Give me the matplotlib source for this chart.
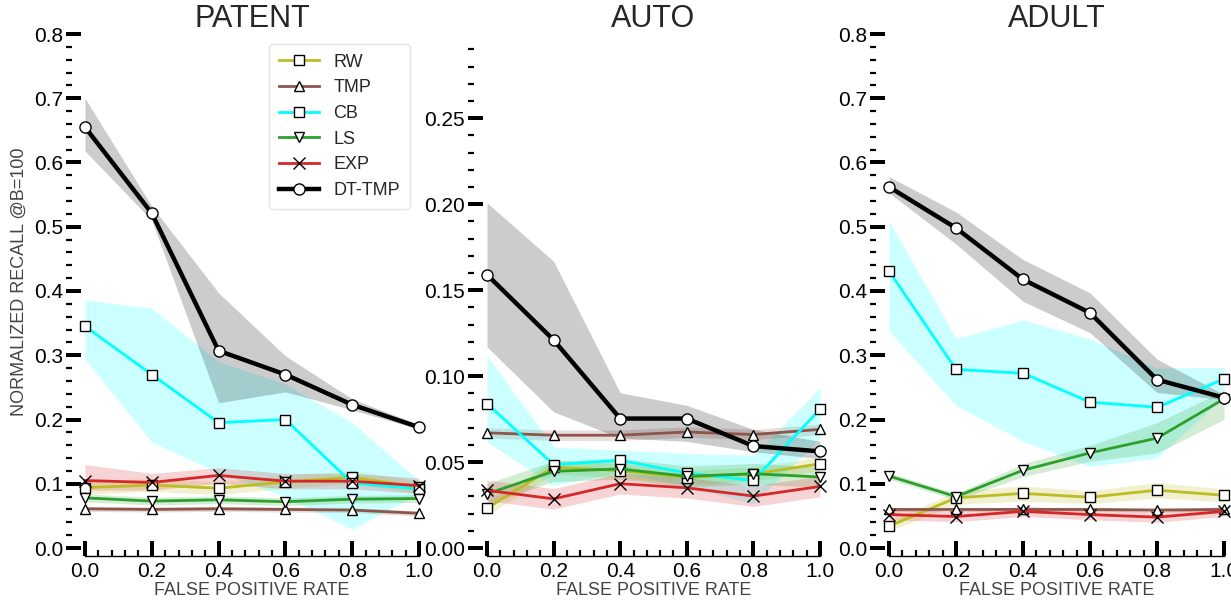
import numpy as np
import matplotlib
matplotlib.use('Agg')
import matplotlib.pyplot as plt
from matplotlib.ticker import MultipleLocator, FormatStrFormatter

plt.rcParams['font.family'] = ['Liberation Sans', 'DejaVu Sans']

fpr = [0.0, 0.2, 0.4, 0.6, 0.8, 1.0]
datasets = ['PATENT', 'AUTO', 'ADULT']
methods = ['RW', 'TMP', 'CB', 'LS', 'EXP', 'DT-TMP']

# PATENT
patent_mean = {
    'RW':     [0.094, 0.098, 0.093, 0.103, 0.110, 0.095],
    'TMP':    [0.061, 0.060, 0.061, 0.060, 0.059, 0.054],
    'CB':     [0.345, 0.270, 0.195, 0.200, 0.101, 0.092],
    'LS':     [0.078, 0.073, 0.075, 0.072, 0.076, 0.077],
    'EXP':    [0.105, 0.102, 0.113, 0.104, 0.104, 0.097],
    'DT-TMP': [0.655, 0.521, 0.307, 0.270, 0.223, 0.188],
}
patent_low = {
    'RW':     [0.084, 0.088, 0.083, 0.093, 0.100, 0.085],
    'TMP':    [0.057, 0.056, 0.057, 0.056, 0.055, 0.050],
    'CB':     [0.294, 0.165, 0.117, 0.080, 0.029, 0.085],
    'LS':     [0.072, 0.067, 0.069, 0.066, 0.070, 0.071],
    'EXP':    [0.090, 0.090, 0.101, 0.092, 0.092, 0.085],
    'DT-TMP': [0.618, 0.510, 0.226, 0.243, 0.215, 0.185],
}
patent_high = {
    'RW':     [0.104, 0.108, 0.103, 0.113, 0.120, 0.105],
    'TMP':    [0.065, 0.064, 0.065, 0.064, 0.063, 0.058],
    'CB':     [0.386, 0.373, 0.290, 0.255, 0.195, 0.105],
    'LS':     [0.084, 0.079, 0.081, 0.078, 0.082, 0.083],
    'EXP':    [0.130, 0.116, 0.125, 0.116, 0.116, 0.109],
    'DT-TMP': [0.700, 0.532, 0.397, 0.299, 0.232, 0.192],
}

# AUTO
auto_mean = {
    'RW':     [0.0232, 0.047, 0.045, 0.041, 0.043, 0.049],
    'TMP':    [0.067, 0.0656, 0.0656, 0.0675, 0.066, 0.069],
    'CB':     [0.084, 0.0485, 0.051, 0.0436, 0.0393, 0.0807],
    'LS':     [0.0315, 0.0446, 0.046, 0.0417, 0.0432, 0.0413],
    'EXP':    [0.0335, 0.0286, 0.0374, 0.035, 0.0302, 0.0358],
    'DT-TMP': [0.159, 0.121, 0.0753, 0.0753, 0.0593, 0.0562],
}
auto_low = {
    'RW':     [0.019, 0.043, 0.041, 0.037, 0.039, 0.045],
    'TMP':    [0.064, 0.0626, 0.0626, 0.0645, 0.063, 0.066],
    'CB':     [0.0617, 0.0364, 0.044, 0.036, 0.0257, 0.0636],
    'LS':     [0.0255, 0.0386, 0.040, 0.0357, 0.0372, 0.0353],
    'EXP':    [0.0275, 0.0226, 0.0314, 0.029, 0.0242, 0.0298],
    'DT-TMP': [0.117, 0.0792, 0.064, 0.062, 0.056, 0.052],
}
auto_high = {
    'RW':     [0.027, 0.051, 0.049, 0.045, 0.047, 0.053],
    'TMP':    [0.070, 0.0686, 0.0686, 0.0705, 0.069, 0.072],
    'CB':     [0.112, 0.0588, 0.057, 0.055, 0.054, 0.093],
    'LS':     [0.0375, 0.0506, 0.052, 0.0477, 0.0492, 0.0473],
    'EXP':    [0.0395, 0.0346, 0.0434, 0.041, 0.0362, 0.0418],
    'DT-TMP': [0.2008, 0.1668, 0.0903, 0.083, 0.069, 0.062],
}

# ADULT
adult_mean = {
    'RW':     [0.034, 0.078, 0.085, 0.079, 0.090, 0.082],
    'TMP':    [0.060, 0.060, 0.060, 0.060, 0.059, 0.060],
    'CB':     [0.431, 0.278, 0.272, 0.227, 0.219, 0.263],
    'LS':     [0.112, 0.080, 0.121, 0.148, 0.171, 0.232],
    'EXP':    [0.052, 0.049, 0.057, 0.052, 0.048, 0.057],
    'DT-TMP': [0.562, 0.498, 0.418, 0.366, 0.262, 0.234],
}
adult_low = {
    'RW':     [0.026, 0.068, 0.073, 0.069, 0.078, 0.072],
    'TMP':    [0.057, 0.057, 0.057, 0.057, 0.056, 0.057],
    'CB':     [0.338, 0.222, 0.166, 0.127, 0.140, 0.236],
    'LS':     [0.107, 0.075, 0.111, 0.135, 0.148, 0.200],
    'EXP':    [0.044, 0.041, 0.049, 0.044, 0.040, 0.049],
    'DT-TMP': [0.553, 0.473, 0.384, 0.335, 0.242, 0.231],
}
adult_high = {
    'RW':     [0.042, 0.088, 0.097, 0.089, 0.102, 0.092],
    'TMP':    [0.063, 0.063, 0.063, 0.063, 0.062, 0.063],
    'CB':     [0.509, 0.326, 0.355, 0.325, 0.280, 0.281],
    'LS':     [0.117, 0.085, 0.131, 0.160, 0.195, 0.245],
    'EXP':    [0.060, 0.057, 0.065, 0.060, 0.056, 0.065],
    'DT-TMP': [0.578, 0.523, 0.449, 0.397, 0.294, 0.239],
}

colors = {'RW': '#bcbd22', 'TMP': '#8c564b', 'CB': '#00ffff',
          'LS': '#2ca02c', 'EXP': '#d62728', 'DT-TMP': 'black'}
markers = {'RW': 's', 'TMP': '^', 'CB': 's', 'LS': 'v', 'EXP': 'x', 'DT-TMP': 'o'}

TEXT = '#262626'
LABEL = '#444444'
PX = 72 / 100.0  # points per pixel at dpi 100


def plot_panel(ax, title, mean, low, high, ymax, major, minor, fmt, legend=False):
    for m in methods:
        dt = m == 'DT-TMP'
        ax.fill_between(fpr, low[m], high[m], color=colors[m], alpha=0.2,
                        linewidth=0, zorder=1 if not dt else 2)
        if markers[m] == 'x':
            ax.plot(fpr, mean[m], color=colors[m], lw=2, marker='x', ms=8,
                    mec='black', mew=1, label=m, zorder=4, clip_on=False)
        else:
            ax.plot(fpr, mean[m], color=colors[m], lw=3.2 if dt else 2,
                    marker=markers[m], ms=8 if dt else 7.5, mfc='white',
                    mec='black', mew=1, label=m, zorder=5 if dt else 4,
                    clip_on=False)

    ax.set_xlim(0, 1)
    ax.set_ylim(0, ymax)
    ax.set_title(title, fontsize=22, color=TEXT, pad=3)
    ax.set_xlabel('FALSE POSITIVE RATE', fontsize=13, color=LABEL, labelpad=1)

    ax.xaxis.set_major_locator(MultipleLocator(0.2))
    ax.xaxis.set_minor_locator(MultipleLocator(0.04))
    ax.xaxis.set_major_formatter(FormatStrFormatter('%.1f'))
    ax.yaxis.set_major_locator(MultipleLocator(major))
    ax.yaxis.set_minor_locator(MultipleLocator(minor))
    ax.yaxis.set_major_formatter(FormatStrFormatter(fmt))

    for s in ['top', 'right']:
        ax.spines[s].set_visible(False)
    ax.spines['left'].set_position(('outward', 19 * PX))
    ax.spines['left'].set_visible(False)
    ax.spines['bottom'].set_position(('outward', 8 * PX))
    ax.spines['bottom'].set_bounds(0, 1)
    ax.spines['bottom'].set_linewidth(1)

    ax.tick_params(axis='both', which='both', direction='in', color='black',
                   labelsize=15, labelcolor='black')
    ax.tick_params(axis='both', which='major', length=15 * PX, width=4 * PX)
    ax.tick_params(axis='both', which='minor', length=6 * PX, width=2.2 * PX)
    ax.tick_params(axis='x', which='major', pad=6 * PX)
    ax.tick_params(axis='y', which='major', pad=3 * PX)

    if legend:
        leg = ax.legend(loc='upper right', bbox_to_anchor=(0.973, 0.981),
                        borderaxespad=0, fontsize=13, handlelength=2.2,
                        handletextpad=0.8, labelspacing=0.48, borderpad=0.55,
                        frameon=True, fancybox=True)
        leg.get_frame().set_edgecolor('#dddddd')
        for t in leg.get_texts():
            t.set_color(TEXT)


fig = plt.figure(figsize=(12.31, 6.02), dpi=100)
W, H = 1231.0, 602.0
bottom = 1 - 548 / H
height = (548 - 34) / H
lefts = [85, 487, 889]
widths = [334, 333, 335]

ax1 = fig.add_axes([lefts[0] / W, bottom, widths[0] / W, height])
ax2 = fig.add_axes([lefts[1] / W, bottom, widths[1] / W, height])
ax3 = fig.add_axes([lefts[2] / W, bottom, widths[2] / W, height])

plot_panel(ax1, datasets[0], patent_mean, patent_low, patent_high, 0.8, 0.1, 0.02, '%.1f', legend=True)
plot_panel(ax2, datasets[1], auto_mean, auto_low, auto_high, 0.299, 0.05, 0.01, '%.2f')
plot_panel(ax3, datasets[2], adult_mean, adult_low, adult_high, 0.8, 0.1, 0.02, '%.1f')

fig.text(19 / W, 1 - 282 / H, 'NORMALIZED RECALL @B=100', rotation=90,
         fontsize=13, color=LABEL, ha='center', va='center')

plt.savefig('out.png', dpi=100)
